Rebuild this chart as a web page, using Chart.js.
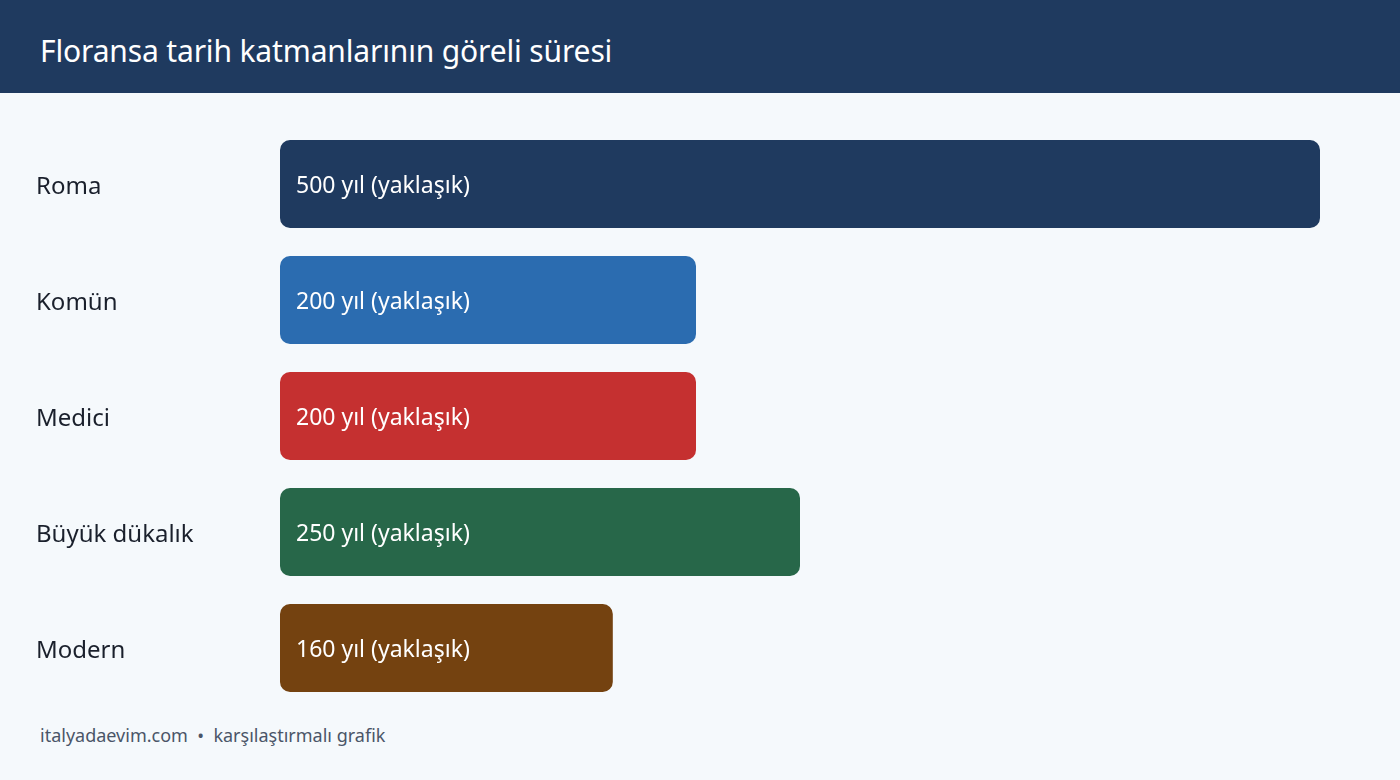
<!DOCTYPE html>
<html>
<head>
<meta charset="utf-8">
<script src="https://cdn.jsdelivr.net/npm/chart.js@4"></script>
<style>
  html, body { margin: 0; padding: 0; background: #f5f9fc; width: 1400px; height: 780px; overflow: hidden; font-family: "Noto Sans", sans-serif; }
  .header { position: absolute; left: 0; top: 0; width: 1400px; height: 93px; background: #1f3a5f; }
  .header h1 { margin: 0; position: absolute; left: 40px; top: 36px; font-size: 30px; line-height: 1; font-weight: 400; color: #ffffff; letter-spacing: -0.15px; }
  .chartBox { position: absolute; left: 0; top: 93px; width: 1400px; height: 630px; }
  .footer { position: absolute; left: 40px; top: 723px; font-size: 18px; color: #4a5568; white-space: pre; }
</style>
</head>
<body>
<div class="header"><h1>Floransa tarih katmanlarının göreli süresi</h1></div>
<div class="chartBox"><canvas id="durationChart"></canvas></div>
<div class="footer">italyadaevim.com  •  karşılaştırmalı grafik</div>
<script>
const periods = ["Roma", "Komün", "Medici", "Büyük dükalık", "Modern"];
const years = [500, 200, 200, 250, 160];
const barLabels = ["500 yıl (yaklaşık)", "200 yıl (yaklaşık)", "200 yıl (yaklaşık)", "250 yıl (yaklaşık)", "160 yıl (yaklaşık)"];
const barColors = ["#1f3a5f", "#2b6cb0", "#c53030", "#276749", "#744210"];

// writes the duration text inside each bar
const insideLabels = {
  id: "insideLabels",
  afterDatasetsDraw(chart) {
    const ctx = chart.ctx;
    const meta = chart.getDatasetMeta(0);
    ctx.save();
    ctx.font = "23px 'Noto Sans'";
    ctx.fillStyle = "#ffffff";
    ctx.textBaseline = "middle";
    meta.data.forEach((bar, i) => {
      ctx.fillText(barLabels[i], bar.base + 16, bar.y + 2);
    });
    ctx.restore();
  }
};

const chart = new Chart(document.getElementById("durationChart").getContext("2d"), {
  type: "bar",
  data: {
    labels: periods,
    datasets: [
      {
        data: years,
        backgroundColor: barColors,
        borderRadius: 10,
        borderSkipped: false,
        categoryPercentage: 1,
        barPercentage: 0.7586
      }
    ]
  },
  options: {
    indexAxis: "y",
    responsive: true,
    maintainAspectRatio: false,
    animation: false,
    layout: { padding: { top: 33, bottom: 17, left: 36, right: 80 } },
    plugins: { legend: { display: false }, tooltip: { enabled: false } },
    scales: {
      x: { display: false, min: 0, max: 500 },
      y: {
        grid: { display: false },
        border: { display: false },
        afterFit(scale) { scale.width = 244; },
        ticks: {
          crossAlign: "far",
          padding: 0,
          labelOffset: 3,
          color: "#1a202c",
          font: { family: "Noto Sans", size: 24 }
        }
      }
    }
  },
  plugins: [insideLabels]
});
</script>
</body>
</html>
